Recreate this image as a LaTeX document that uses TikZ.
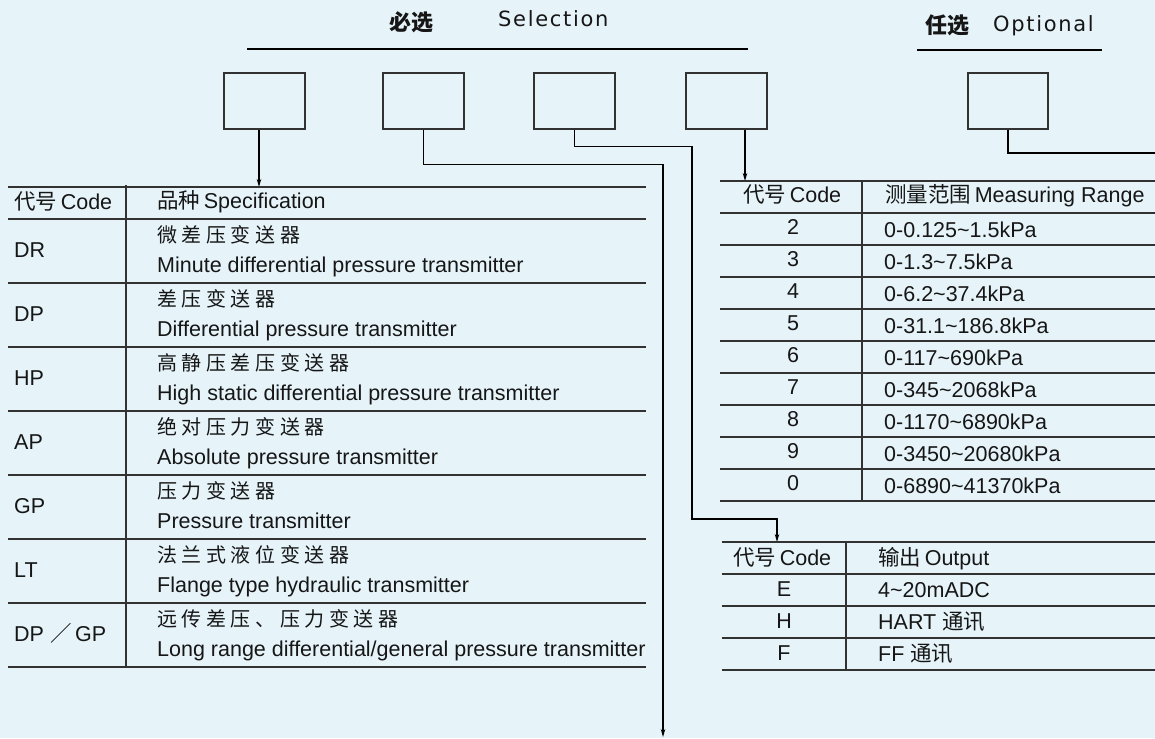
\documentclass[tikz,border=0pt]{standalone}
\usepackage{fontspec}
\usepackage{tikz}
\usetikzlibrary{arrows.meta}
\setmainfont{Liberation Sans}
\newfontfamily\cjk{Noto Sans CJK SC}
\newfontfamily\cjkwide[LetterSpace=23]{Noto Sans CJK SC}
\newfontfamily\headfont[LetterSpace=8]{DejaVu Sans}
\definecolor{paperBlue}{RGB}{230,244,250}
\definecolor{lineGray}{RGB}{50,50,50}
\definecolor{inkBlack}{RGB}{22,22,22}

\begin{document}
\begin{tikzpicture}[x=1pt, y=-1pt,
    selbox/.style={draw=lineGray, line width=1.2pt, minimum width=81pt, minimum height=56pt, inner sep=0pt},
    tline/.style={lineGray, line width=1.3pt},
    conn/.style={black, line width=1.2pt},
    tip/.style={-{Stealth[length=8pt,width=4.5pt]}},
    lbl/.style={inner sep=0pt, anchor=base west, text=inkBlack, font=\fontsize{21.5}{21.5}\selectfont},
    zh/.style={inner sep=0pt, anchor=base west, text=inkBlack, font=\fontsize{20}{20}\selectfont\cjkwide},
    num/.style={inner sep=0pt, anchor=base, text=inkBlack, font=\fontsize{21.5}{21.5}\selectfont},
    head/.style={inner sep=0pt, anchor=base west, text=inkBlack, font=\fontsize{21}{21}\selectfont\headfont}]

  \useasboundingbox (0,0) rectangle (1155,738);
  \fill[paperBlue] (0,0) rectangle (1155,738);

  % headings
  \node[lbl, font=\fontsize{22}{22}\selectfont\cjk\bfseries] (selzh) at (389,31) {必选};
  \node[head] (selen) at (498,27) {Selection};
  \draw[black, line width=2.5pt] (247,49) -- (748,49);
  \node[lbl, font=\fontsize{22}{22}\selectfont\cjk\bfseries] (optzh) at (925,34) {任选};
  \node[head] (opten) at (993,32) {Optional};
  \draw[black, line width=2pt] (917,50) -- (1102,50);

  % code boxes
  \node[selbox] (b1) at (264.5,101) {};
  \node[selbox] (b2) at (423.5,101) {};
  \node[selbox] (b3) at (574.5,101) {};
  \node[selbox] (b4) at (726.5,101) {};
  \node[selbox, minimum width=80pt] (bopt) at (1008,101) {};

  \coordinate (specin) at (259,187);
  \coordinate (rangein) at (745,181);
  \coordinate (outin) at (777,542);
  \coordinate (endb2) at (663,737);
  \coordinate (optout) at (1155,153);

  \draw[conn, tip, line width=1.8pt] (b1.south -| specin) -- (specin);
  \draw[conn, tip] (b2.south) -- ++(0,35) -| (endb2);
  \draw[conn, tip] (b3.south) -- ++(0,17) -| (692,519) -| (outin);
  \draw[conn, tip, line width=1.8pt] (b4.south -| rangein) -- (rangein);
  \draw[conn] (bopt.south) |- (optout);

  % specification table
  \foreach \y in {187,219,283,347,411,475,539,603,667}
    \draw[tline] (8,\y) -- (646,\y);
  \draw[tline] (126,185) -- (126,666);
  \node[lbl] (spechdA) at (14,209) {{\cjk 代号}\,Code};
  \node[lbl] (spechdB) at (157,208) {{\cjk 品种}\,Specification};
  \foreach \code/\cn/\en [count=\i from 0] in {
      DR/微差压变送器/Minute differential pressure transmitter,
      DP/差压变送器/Differential pressure transmitter,
      HP/高静压差压变送器/High static differential pressure transmitter,
      AP/绝对压力变送器/Absolute pressure transmitter,
      GP/压力变送器/Pressure transmitter,
      LT/法兰式液位变送器/Flange type hydraulic transmitter,
      {DP {\cjk ／}\,GP}/远传差压、压力变送器/{Long range differential/general pressure transmitter}} {
    \node[lbl] (spec-code-\i) at (14,219+64*\i+38) {\code};
    \node[zh] (spec-zh-\i) at (157,219+64*\i+23) {\cn};
    \node[lbl] (spec-en-\i) at (157,219+64*\i+53) {\en};
  }

  % measuring range table
  \foreach \y in {181,213,...,501}
    \draw[tline] (720,\y) -- (1155,\y);
  \draw[tline] (862,181) -- (862,501);
  \node[lbl] (rnghdA) at (743,202) {{\cjk 代号}\,Code};
  \node[lbl] (rnghdB) at (885,202) {{\cjk 测量范围}\,Measuring Range};
  \foreach \code/\range [count=\i from 0] in {
      2/0-0.125\textasciitilde 1.5kPa, 3/0-1.3\textasciitilde 7.5kPa,
      4/0-6.2\textasciitilde 37.4kPa, 5/0-31.1\textasciitilde 186.8kPa,
      6/0-117\textasciitilde 690kPa, 7/0-345\textasciitilde 2068kPa,
      8/0-1170\textasciitilde 6890kPa, 9/0-3450\textasciitilde 20680kPa,
      0/0-6890\textasciitilde 41370kPa} {
    \node[num] (rng-code-\i) at (793,213+32*\i+21) {\code};
    \node[lbl] (rng-val-\i) at (884,213+32*\i+24) {\range};
  }

  % output table
  \foreach \y in {542,574,606,638,670}
    \draw[tline] (722,\y) -- (1155,\y);
  \draw[tline] (846,542) -- (846,670);
  \node[lbl] (outhdA) at (733,565) {{\cjk 代号}\,Code};
  \node[lbl] (outhdB) at (878,565) {{\cjk 输出}\,Output};
  \foreach \code/\sig [count=\i from 0] in {
      E/4\textasciitilde 20mADC, H/HART {\cjk 通讯}, F/FF {\cjk 通讯}} {
    \node[num] (out-code-\i) at (784,574+32*\i+22) {\code};
    \node[lbl] (out-val-\i) at (878,574+32*\i+23) {\sig};
  }
\end{tikzpicture}
\end{document}
